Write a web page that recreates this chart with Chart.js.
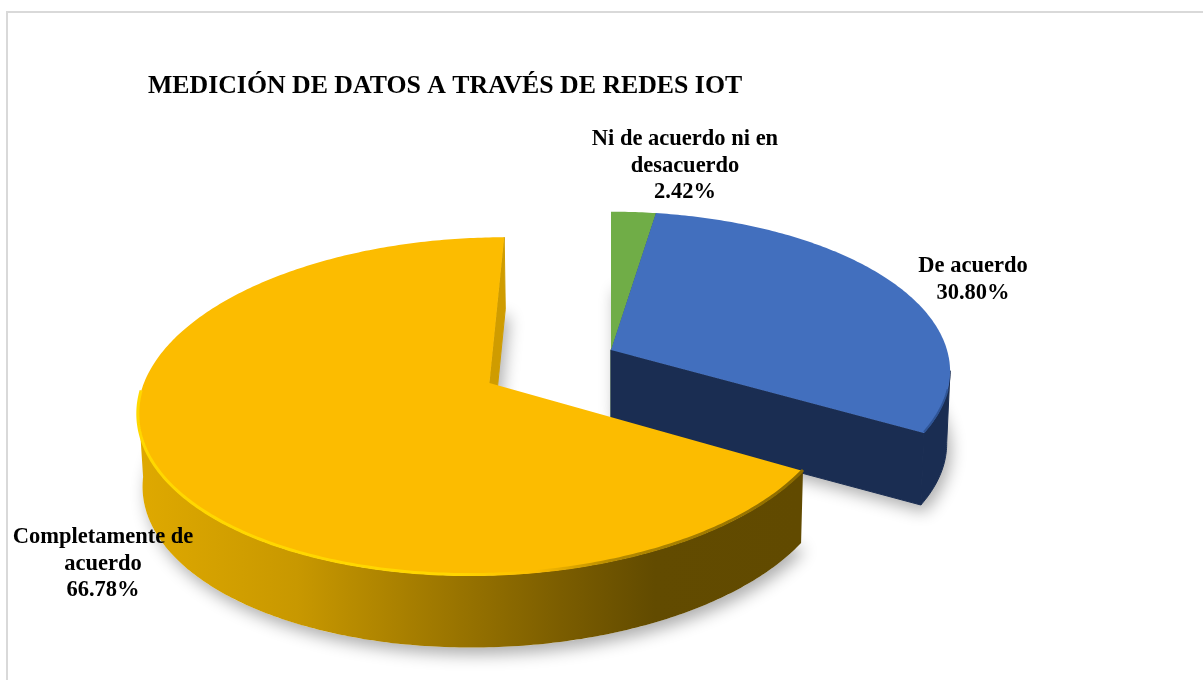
<!DOCTYPE html>
<html>
<head>
<meta charset="utf-8">
<style>
  html, body { margin: 0; padding: 0; background: #fff; overflow: hidden; }
  canvas { display: block; }
</style>
<script src="https://cdn.jsdelivr.net/npm/chart.js@4"></script>
</head>
<body>
<canvas id="pie3d" width="1203" height="680"></canvas>
<script>
const chartTitle = "MEDICIÓN DE DATOS A TRAVÉS DE REDES IOT";
const categories = ["Ni de acuerdo ni en desacuerdo", "De acuerdo", "Completamente de acuerdo"];
const labelLines = [["Ni de acuerdo ni en", "desacuerdo"], ["De acuerdo"], ["Completamente de", "acuerdo"]];
const values = [2.42, 30.8, 66.78];
const topColors = ["#70ad47", "#426fbe", "#fcbc00"];
const labelAnchors = [[685, 138], [973, 265], [103, 536]];

// fake 3d: library gives the angles, this maps them on a tilted plane
const view = { cx: 611, cy: 350, radius: 336, squash: 0.467, persp: 0.0004, depth: 72, taper: 0.01 };
const serif = '"Liberation Serif", "Times New Roman", serif';

function project(X, Y, z) {
  const s = 1 / (1 - view.persp * Y);
  return [view.cx + X * s * (1 - view.taper * z), view.cy + Y * view.squash * s + z * view.depth];
}

function sliceGeometry(el) {
  const p = el.getProps(["x", "y", "startAngle", "endAngle", "outerRadius"], true);
  const k = view.radius / p.outerRadius;
  const mid = (p.startAngle + p.endAngle) / 2;
  const off = (el.options.offset || 0) * k;
  return { a0: p.startAngle, a1: p.endAngle, ox: Math.cos(mid) * off, oy: Math.sin(mid) * off };
}

function rimPoints(g, a0, a1, z) {
  const pts = [];
  const n = Math.max(2, Math.ceil((a1 - a0) * 80));
  for (let i = 0; i <= n; i++) {
    const a = a0 + (a1 - a0) * i / n;
    pts.push(project(g.ox + Math.cos(a) * view.radius, g.oy + Math.sin(a) * view.radius, z));
  }
  return pts;
}

function tracePoly(ctx, pts) {
  ctx.beginPath();
  pts.forEach((p, i) => i ? ctx.lineTo(p[0], p[1]) : ctx.moveTo(p[0], p[1]));
  ctx.closePath();
}

function slicePoly(g, z) {
  return [project(g.ox, g.oy, z)].concat(rimPoints(g, g.a0, g.a1, z));
}

function cutFace(ctx, g, angle, color) {
  const rx = g.ox + Math.cos(angle) * view.radius;
  const ry = g.oy + Math.sin(angle) * view.radius;
  tracePoly(ctx, [project(g.ox, g.oy, 0), project(rx, ry, 0), project(rx, ry, 1), project(g.ox, g.oy, 1)]);
  ctx.fillStyle = color;
  ctx.strokeStyle = color;
  ctx.lineWidth = 1;
  ctx.fill();
  ctx.stroke();
}

// part of the rim turned to the viewer
function frontArc(g, margin) {
  const a0 = Math.max(g.a0, -margin);
  const a1 = Math.min(g.a1, Math.PI + margin);
  return a1 > a0 ? [a0, a1] : null;
}

function yellowWall(ctx) {
  const grad = ctx.createLinearGradient(138, 0, 800, 0);
  grad.addColorStop(0, "#dfa900");
  grad.addColorStop(0.24, "#c89800");
  grad.addColorStop(0.42, "#a57d00");
  grad.addColorStop(0.64, "#7b5d00");
  grad.addColorStop(0.78, "#624b00");
  grad.addColorStop(1, "#614a00");
  return grad;
}

function yellowBevel(ctx) {
  const grad = ctx.createLinearGradient(138, 0, 800, 0);
  grad.addColorStop(0, "#ffd800");
  grad.addColorStop(0.48, "#ffd600");
  grad.addColorStop(0.6, "#fcbc00");
  grad.addColorStop(0.72, "#b58a00");
  grad.addColorStop(1, "#8c6b00");
  return grad;
}

const pie3d = {
  id: "pie3d",
  beforeDraw(chart) {
    const ctx = chart.ctx;
    ctx.save();
    ctx.fillStyle = "#fff";
    ctx.fillRect(0, 0, chart.width, chart.height);
    ctx.strokeStyle = "#d9d9d9";
    ctx.lineWidth = 2;
    ctx.beginPath();
    ctx.moveTo(1203, 12);
    ctx.lineTo(7, 12);
    ctx.lineTo(7, 680);
    ctx.stroke();
    ctx.restore();
  },
  beforeDatasetsDraw(chart) {
    const ctx = chart.ctx;
    const slices = chart.getDatasetMeta(0).data.map(sliceGeometry);
    ctx.save();

    // soft shadow of the base
    slices.forEach(g => {
      ctx.save();
      ctx.shadowColor = "rgba(0,0,0,0.32)";
      ctx.shadowBlur = 16;
      ctx.shadowOffsetX = 4;
      ctx.shadowOffsetY = 7;
      tracePoly(ctx, slicePoly(g, 1));
      ctx.fillStyle = "#fff";
      ctx.fill();
      ctx.restore();
    });

    slices.forEach((g, i) => {
      const isBig = i === 2;
      const sideColor = isBig ? "#cf9c00" : i === 1 ? "#1a2d52" : "#3f6a28";
      cutFace(ctx, g, g.a1, sideColor);
      // start the wall where the rim is widest on screen, so its end is tangent
      const arc = frontArc(g, -0.13);
      if (arc) {
        const up = rimPoints(g, arc[0], arc[1], 0);
        const down = rimPoints(g, arc[0], arc[1], 1).reverse();
        tracePoly(ctx, up.concat(down));
        ctx.fillStyle = isBig ? yellowWall(ctx) : sideColor;
        ctx.fill();
        if (!isBig) {
          ctx.strokeStyle = sideColor;
          ctx.lineWidth = 1;
          ctx.stroke();
        }
      }
      tracePoly(ctx, slicePoly(g, 0));
      ctx.fillStyle = topColors[i];
      ctx.fill();
      const edge = frontArc(g, isBig ? -0.05 : -0.25);
      if (edge && i > 0) {
        const pts = rimPoints(g, edge[0], edge[1], 0);
        ctx.beginPath();
        pts.forEach((p, j) => j ? ctx.lineTo(p[0], p[1] - 1) : ctx.moveTo(p[0], p[1] - 1));
        ctx.lineWidth = isBig ? 3 : 2;
        ctx.lineCap = "butt";
        ctx.strokeStyle = isBig ? yellowBevel(ctx) : "#2f5597";
        ctx.stroke();
      }
    });
    ctx.restore();
    return false;
  },
  afterDraw(chart) {
    const ctx = chart.ctx;
    ctx.save();
    ctx.fillStyle = "#000";
    ctx.textBaseline = "alphabetic";
    ctx.textAlign = "left";
    ctx.font = "bold 25.8px " + serif;
    ctx.fillText(chartTitle, 148, 93);
    ctx.textAlign = "center";
    ctx.font = "bold 22.5px " + serif;
    labelLines.forEach((lines, i) => {
      const [x, y] = labelAnchors[i];
      lines.concat(values[i].toFixed(2) + "%").forEach((line, j) => {
        ctx.fillText(line, x, y + 7 + j * 26.5);
      });
    });
    ctx.restore();
  }
};

new Chart(document.getElementById("pie3d"), {
  type: "pie",
  data: {
    labels: categories,
    datasets: [{ data: values, backgroundColor: topColors, borderWidth: 0, offset: [0, 0, 115] }]
  },
  options: {
    responsive: false,
    animation: false,
    plugins: { legend: { display: false }, tooltip: { enabled: false } }
  },
  plugins: [pie3d]
});
</script>
</body>
</html>
